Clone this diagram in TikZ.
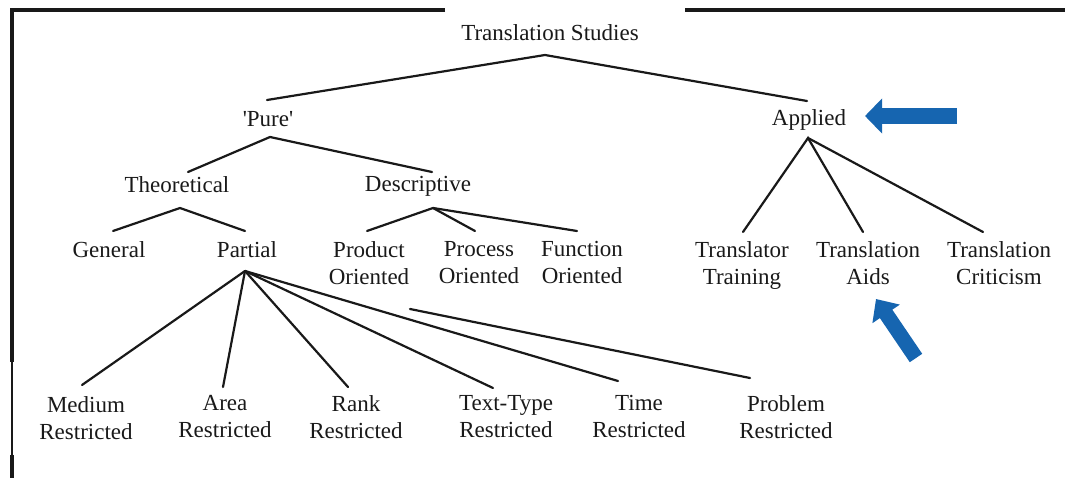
\documentclass[tikz,border=0pt]{standalone}
\usepackage{fontspec}
\setmainfont{Liberation Serif}
\usetikzlibrary{calc,arrows.meta}
\definecolor{arrowblue}{RGB}{22,101,176}
\tikzset{
  lbl/.style={font=\fontsize{23}{27}\selectfont, inner sep=0pt, anchor=north, align=center, text=black!90},
  link/.style={line width=2.2pt, line cap=round, black!90},
  framethick/.style={line width=3.2pt, black!90},
  framethin/.style={line width=1.4pt, black!90},
  bluearrow/.style={draw=arrowblue, line width=16pt, -{Triangle[width=34pt,length=17pt]}},
  bluearrowb/.style={draw=arrowblue, line width=15pt, -{Triangle[width=32pt,length=18pt]}}
}
\begin{document}
\begin{tikzpicture}[x=1pt,y=-1pt]
\useasboundingbox (0,0) rectangle (1065,478);
% frame
\coordinate (f1) at (445,10);
\coordinate (f2) at (12,10);
\coordinate (f3) at (12,362);
\coordinate (f4) at (12,455);
\coordinate (f5) at (12,478);
\coordinate (f6) at (685,10);
\coordinate (f7) at (1065,10);
\draw[framethick, line join=miter] (f1) -- (f2) -- (f3);
\draw[framethin] (f3) -- (f4);
\draw[framethick] (f4) -- (f5);
\draw[framethick] (f6) -- (f7);

% nodes
\node[lbl] (ts) at (550,24) {Translation Studies};
\node[lbl] (pure) at (268,111) {\textquotesingle Pure\textquotesingle};
\node[lbl] (appl) at (809,109) {Applied};
\node[lbl] (theo) at (177,176) {Theoretical};
\node[lbl] (desc) at (418,176) {Descriptive};
\node[lbl] (gen) at (109,241) {General};
\node[lbl] (part) at (247,241) {Partial};
\node[lbl] (prod) at (369,241) {Product\\Oriented};
\node[lbl] (proc) at (479,241) {Process\\Oriented};
\node[lbl] (func) at (582,241) {Function\\Oriented};
\node[lbl] (trtr) at (742,241) {Translator\\Training};
\node[lbl] (aids) at (868,241) {Translation\\Aids};
\node[lbl] (crit) at (999,241) {Translation\\Criticism};
\node[lbl] (med) at (86,396) {Medium\\Restricted};
\node[lbl] (area) at (225,395) {Area\\Restricted};
\node[lbl] (rank) at (356,395) {Rank\\Restricted};
\node[lbl] (ttype) at (506,395) {Text-Type\\Restricted};
\node[lbl] (time) at (639,395) {Time\\Restricted};
\node[lbl] (prob) at (786,395) {Problem\\Restricted};

% connection points
\coordinate (ts-b) at ($(ts.north)+(-5,31)$);
\coordinate (pure-t) at ($(pure.north)+(-1,-11)$);
\coordinate (pure-b) at ($(pure.north)+(2,26)$);
\coordinate (appl-t) at ($(appl.north)+(-2,-8)$);
\coordinate (appl-b) at ($(appl.north)+(-1,29)$);
\coordinate (theo-t) at ($(theo.north)+(11,-4)$);
\coordinate (theo-b) at ($(theo.north)+(3,32)$);
\coordinate (desc-t) at ($(desc.north)+(14,-4)$);
\coordinate (desc-b) at ($(desc.north)+(15,32)$);
\coordinate (gen-t) at ($(gen.north)+(4,-10)$);
\coordinate (part-t) at ($(part.north)+(-2,-10)$);
\coordinate (part-b) at ($(part.north)+(-2,30)$);
\coordinate (prod-t) at ($(prod.north)+(-2,-10)$);
\coordinate (proc-t) at ($(proc.north)+(-4,-10)$);
\coordinate (func-t) at ($(func.north)+(-5,-10)$);
\coordinate (trtr-t) at ($(trtr.north)+(1,-9)$);
\coordinate (aids-t) at ($(aids.north)+(-5,-9)$);
\coordinate (crit-t) at ($(crit.north)+(-16,-9)$);
\coordinate (med-t) at ($(med.north)+(-4,-11)$);
\coordinate (area-t) at ($(area.north)+(-2,-8)$);
\coordinate (rank-t) at ($(rank.north)+(-8,-8)$);
\coordinate (ttype-t) at ($(ttype.north)+(-13,-7)$);
\coordinate (time-t) at ($(time.north)+(-21,-14)$);
\coordinate (prob-t) at ($(prob.north)+(-36,-17)$);
\coordinate (prob-free) at (410,309);

% connectors
\draw[link] (pure-t) -- (ts-b) -- (appl-t);
\draw[link] (theo-t) -- (pure-b) -- (desc-t);
\draw[link] (gen-t) -- (theo-b) -- (part-t);
\draw[link] (prod-t) -- (desc-b) -- (proc-t);
\draw[link] (desc-b) -- (func-t);
\draw[link] (trtr-t) -- (appl-b) -- (aids-t);
\draw[link] (appl-b) -- (crit-t);
\draw[link] (part-b) -- (med-t);
\draw[link] (part-b) -- (area-t);
\draw[link] (part-b) -- (rank-t);
\draw[link] (part-b) -- (ttype-t);
\draw[link] (part-b) -- (time-t);
\draw[link] (prob-free) -- (prob-t);

% blue arrows
\coordinate (a1tail) at (957,116);
\coordinate (a1tip) at (865,116);
\draw[bluearrow] (a1tail) -- (a1tip);
\coordinate (a2tail) at (916,358);
\coordinate (a2tip) at (876,299);
\draw[bluearrowb] (a2tail) -- (a2tip);
\end{tikzpicture}
\end{document}
